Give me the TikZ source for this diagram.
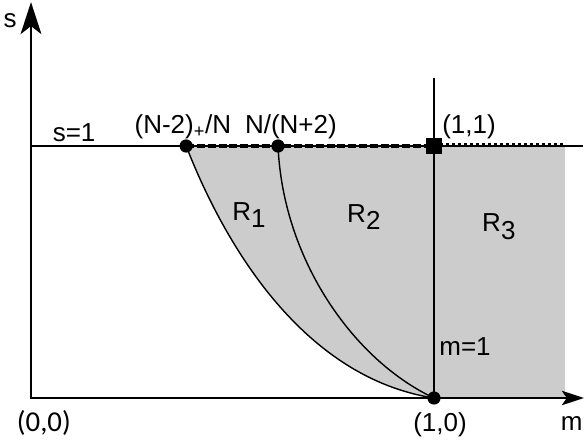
\documentclass[tikz,border=0pt]{standalone}
\usepackage{fontspec}
\setmainfont{Liberation Sans}
\newfontfamily\calfont{Carlito}
\usetikzlibrary{arrows.meta}

\begin{document}
\begin{tikzpicture}[
    x=10.075cm,y=6.3cm,
    font=\fontsize{18.5}{20}\selectfont,
    axis/.style={line width=1.4pt,line join=miter},
    bound/.style={line width=1pt},
    dot/.style={circle,fill=black,inner sep=0pt,minimum size=0.33cm},
    corner/.style={rectangle,fill=black,inner sep=0pt,minimum size=0.42cm},
    lbl/.style={anchor=base,inner sep=0pt},
]
\useasboundingbox (-0.0769,-0.1667) rectangle (1.3797,1.5794);

% =====================================================================
%  key points (m,s)
% =====================================================================
\coordinate (O)    at (0,0);
\coordinate (stop) at (0,1.571);
\coordinate (mend) at (1.372,0);
\coordinate (s0)   at (0,1);
\coordinate (send) at (1.37,1);
\coordinate (pa)   at (0.385,1);
\coordinate (pb)   at (0.613,1);
\coordinate (pc)   at (1,1);
\coordinate (pd)   at (1,0);
\coordinate (mtop) at (1,1.27);
\coordinate (dend) at (1.32,1.004);
\coordinate (dbeg) at (1,1.004);
\coordinate (ga)   at (1.325,0);
\coordinate (gb)   at (1.325,1);

% shaded region R1 u R2 u R3
\fill[gray!40] (pa) .. controls (0.485,0.59) and (0.68,0.08) .. (pd)
    -- (ga) -- (gb) -- cycle;

% =====================================================================
%  axes and the lines s=1, m=1
% =====================================================================
\draw[axis,{Stealth[length=0.8cm,width=0.52cm,inset=0.2cm]}-{Stealth[length=0.55cm,width=0.36cm,inset=0.12cm]}]
    (stop) -- (O) -- (mend);
\draw[line width=1.1pt] (s0) -- (send);
\draw[line width=1.4pt] (mtop) -- (pd);

% boundary curves
\draw[bound] (pa) .. controls (0.485,0.59) and (0.68,0.08) .. (pd);
\draw[bound] (pb) .. controls (0.625,0.55) and (0.8,0.15) .. (pd);

% dashed / dotted parts of s=1
\draw[line width=2.2pt,dash pattern=on 0.2cm off 0.07cm] (pa) -- (pc);
\draw[line width=3pt,dash pattern=on 0.08cm off 0.07cm] (dbeg) -- (dend);

\foreach \p in {pa,pb,pd} \node[dot] (d\p) at (\p) {};
\node[corner] (sq) at (pc) {};

% =====================================================================
%  labels
% =====================================================================
\node[lbl] (ls)   at (-0.052,1.47)  {s};
\node[lbl] (ls1)  at (0.107,1.016)  {s=1};
\node[lbl] (lna)  at (0.377,1.05)   {(N-2)\textsubscript{+}/N};
\node[lbl] (lnb)  at (0.645,1.05)   {N/(N+2)};
\node[lbl] (l11)  at (1.087,1.05)   {(1,1)};
\node[lbl] (lr1)  at (0.541,0.706)  {R\raisebox{-0.28em}{1}};
\node[lbl] (lr2)  at (0.826,0.698)  {R\raisebox{-0.28em}{2}};
\node[lbl] (lr3)  at (1.161,0.659)  {R\raisebox{-0.28em}{3}};
\node[lbl] (lm1)  at (1.077,0.167)  {m=1};
\node[lbl] (l10)  at (1.015,-0.132) {(1,0)};
\node[lbl] (lm)   at (1.342,-0.127) {m};
\node[lbl,font=\calfont\fontsize{20.5}{22}\selectfont] (l00) at (0.032,-0.132) {(0,0)};

\end{tikzpicture}
\end{document}
